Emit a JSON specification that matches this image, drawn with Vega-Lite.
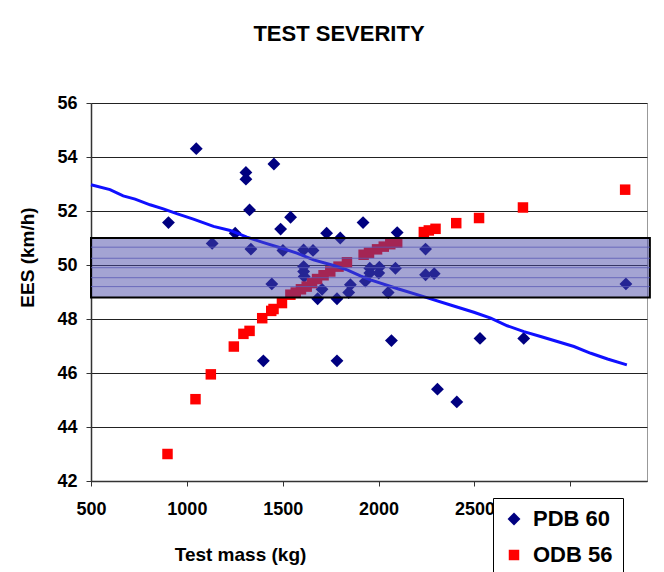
{
  "$schema": "https://vega.github.io/schema/vega-lite/v6.json",
  "width": 556,
  "height": 378,
  "autosize": {"type": "none"},
  "padding": {"left": 91, "top": 103, "right": 17, "bottom": 91},
  "background": "white",
  "config": {
    "view": {"stroke": "#999999", "strokeWidth": 1},
    "font": "Liberation Sans"
  },
  "title": {
    "text": "TEST SEVERITY",
    "font": "Liberation Sans",
    "fontSize": 22,
    "fontWeight": "bold",
    "color": "black",
    "anchor": "middle",
    "frame": "group",
    "dx": -30,
    "offset": 38,
    "baseline": "middle"
  },
  "datasets": {
    "pts": [
      {"mass": 904, "ees": 51.57, "series": "PDB 60"},
      {"mass": 1049, "ees": 54.31, "series": "PDB 60"},
      {"mass": 1132, "ees": 50.8, "series": "PDB 60"},
      {"mass": 1252, "ees": 51.18, "series": "PDB 60"},
      {"mass": 1308, "ees": 53.43, "series": "PDB 60"},
      {"mass": 1308, "ees": 53.18, "series": "PDB 60"},
      {"mass": 1327, "ees": 52.04, "series": "PDB 60"},
      {"mass": 1334, "ees": 50.59, "series": "PDB 60"},
      {"mass": 1454, "ees": 53.74, "series": "PDB 60"},
      {"mass": 1489, "ees": 51.33, "series": "PDB 60"},
      {"mass": 1541, "ees": 51.77, "series": "PDB 60"},
      {"mass": 1501, "ees": 50.54, "series": "PDB 60"},
      {"mass": 1609, "ees": 50.56, "series": "PDB 60"},
      {"mass": 1658, "ees": 50.54, "series": "PDB 60"},
      {"mass": 1609, "ees": 49.94, "series": "PDB 60"},
      {"mass": 1609, "ees": 49.76, "series": "PDB 60"},
      {"mass": 1612, "ees": 49.57, "series": "PDB 60"},
      {"mass": 1443, "ees": 49.3, "series": "PDB 60"},
      {"mass": 1729, "ees": 51.18, "series": "PDB 60"},
      {"mass": 1800, "ees": 51.0, "series": "PDB 60"},
      {"mass": 1705, "ees": 49.1, "series": "PDB 60"},
      {"mass": 1682, "ees": 48.75, "series": "PDB 60"},
      {"mass": 1783, "ees": 48.75, "series": "PDB 60"},
      {"mass": 1853, "ees": 49.27, "series": "PDB 60"},
      {"mass": 1844, "ees": 48.98, "series": "PDB 60"},
      {"mass": 1919, "ees": 51.57, "series": "PDB 60"},
      {"mass": 2097, "ees": 51.2, "series": "PDB 60"},
      {"mass": 2245, "ees": 50.59, "series": "PDB 60"},
      {"mass": 2245, "ees": 49.64, "series": "PDB 60"},
      {"mass": 2290, "ees": 49.68, "series": "PDB 60"},
      {"mass": 2088, "ees": 49.88, "series": "PDB 60"},
      {"mass": 1931, "ees": 49.4, "series": "PDB 60"},
      {"mass": 1954, "ees": 49.88, "series": "PDB 60"},
      {"mass": 1954, "ees": 49.7, "series": "PDB 60"},
      {"mass": 2004, "ees": 49.92, "series": "PDB 60"},
      {"mass": 2001, "ees": 49.7, "series": "PDB 60"},
      {"mass": 2050, "ees": 48.98, "series": "PDB 60"},
      {"mass": 3290, "ees": 49.3, "series": "PDB 60"},
      {"mass": 1399, "ees": 46.45, "series": "PDB 60"},
      {"mass": 1783, "ees": 46.45, "series": "PDB 60"},
      {"mass": 2067, "ees": 47.2, "series": "PDB 60"},
      {"mass": 2529, "ees": 47.28, "series": "PDB 60"},
      {"mass": 2757, "ees": 47.28, "series": "PDB 60"},
      {"mass": 2307, "ees": 45.4, "series": "PDB 60"},
      {"mass": 2408, "ees": 44.93, "series": "PDB 60"},
      {"mass": 899, "ees": 43.0, "series": "ODB 56"},
      {"mass": 1045, "ees": 45.03, "series": "ODB 56"},
      {"mass": 1125, "ees": 45.95, "series": "ODB 56"},
      {"mass": 1245, "ees": 46.98, "series": "ODB 56"},
      {"mass": 1295, "ees": 47.45, "series": "ODB 56"},
      {"mass": 1327, "ees": 47.56, "series": "ODB 56"},
      {"mass": 1393, "ees": 48.03, "series": "ODB 56"},
      {"mass": 1440, "ees": 48.3, "series": "ODB 56"},
      {"mass": 1452, "ees": 48.37, "series": "ODB 56"},
      {"mass": 1496, "ees": 48.59, "series": "ODB 56"},
      {"mass": 1540, "ees": 48.9, "series": "ODB 56"},
      {"mass": 1568, "ees": 48.98, "series": "ODB 56"},
      {"mass": 1595, "ees": 49.1, "series": "ODB 56"},
      {"mass": 1625, "ees": 49.2, "series": "ODB 56"},
      {"mass": 1653, "ees": 49.33, "series": "ODB 56"},
      {"mass": 1679, "ees": 49.48, "series": "ODB 56"},
      {"mass": 1713, "ees": 49.62, "series": "ODB 56"},
      {"mass": 1748, "ees": 49.76, "series": "ODB 56"},
      {"mass": 1791, "ees": 49.94, "series": "ODB 56"},
      {"mass": 1835, "ees": 50.1, "series": "ODB 56"},
      {"mass": 1922, "ees": 50.38, "series": "ODB 56"},
      {"mass": 1950, "ees": 50.45, "series": "ODB 56"},
      {"mass": 1992, "ees": 50.58, "series": "ODB 56"},
      {"mass": 2027, "ees": 50.68, "series": "ODB 56"},
      {"mass": 2061, "ees": 50.77, "series": "ODB 56"},
      {"mass": 2097, "ees": 50.83, "series": "ODB 56"},
      {"mass": 2236, "ees": 51.22, "series": "ODB 56"},
      {"mass": 2262, "ees": 51.28, "series": "ODB 56"},
      {"mass": 2297, "ees": 51.34, "series": "ODB 56"},
      {"mass": 2405, "ees": 51.55, "series": "ODB 56"},
      {"mass": 2524, "ees": 51.74, "series": "ODB 56"},
      {"mass": 2753, "ees": 52.13, "series": "ODB 56"},
      {"mass": 3286, "ees": 52.79, "series": "ODB 56"}
    ],
    "trend": [
      {"mass": 500, "ees": 52.97},
      {"mass": 599, "ees": 52.79},
      {"mass": 668, "ees": 52.56},
      {"mass": 730, "ees": 52.44},
      {"mass": 808, "ees": 52.23},
      {"mass": 877, "ees": 52.08},
      {"mass": 947, "ees": 51.9},
      {"mass": 1034, "ees": 51.7},
      {"mass": 1139, "ees": 51.43},
      {"mass": 1226, "ees": 51.28},
      {"mass": 1313, "ees": 51.03},
      {"mass": 1400, "ees": 50.83},
      {"mass": 1487, "ees": 50.64},
      {"mass": 1574, "ees": 50.44},
      {"mass": 1661, "ees": 50.19},
      {"mass": 1766, "ees": 49.98},
      {"mass": 1836, "ees": 49.82},
      {"mass": 1905, "ees": 49.6},
      {"mass": 1958, "ees": 49.45},
      {"mass": 2100, "ees": 49.12},
      {"mass": 2235, "ees": 48.83},
      {"mass": 2375, "ees": 48.52},
      {"mass": 2497, "ees": 48.25},
      {"mass": 2585, "ees": 48.03},
      {"mass": 2671, "ees": 47.75},
      {"mass": 2758, "ees": 47.53},
      {"mass": 2845, "ees": 47.35},
      {"mass": 3019, "ees": 46.98},
      {"mass": 3107, "ees": 46.73},
      {"mass": 3194, "ees": 46.52},
      {"mass": 3295, "ees": 46.3}
    ],
    "band": [
      {"from": 500, "to": 3415, "lo": 48.8, "hi": 51.0}
    ],
    "pattern": [
      {"from": 500, "to": 3415, "level": 50.66},
      {"from": 500, "to": 3415, "level": 50.25},
      {"from": 500, "to": 3415, "level": 49.9},
      {"from": 500, "to": 3415, "level": 49.53},
      {"from": 500, "to": 3415, "level": 49.2}
    ]
  },
  "layer": [
    {
      "data": {"name": "pts"},
      "mark": {"type": "point", "filled": true, "opacity": 1, "strokeWidth": 0},
      "encoding": {
        "x": {
          "field": "mass",
          "type": "quantitative",
          "scale": {"domain": [500, 3400], "nice": false, "zero": false},
          "axis": {
            "title": "Test mass (kg)",
            "values": [500, 1000, 1500, 2000, 2500, 3000],
            "labelExpr": "datum.value == 3000 ? '' : format(datum.value, 'd')",
            "grid": false,
            "labelFont": "Liberation Sans",
            "labelFontSize": 18,
            "labelFontWeight": "bold",
            "labelColor": "black",
            "labelPadding": 14,
            "labelFlush": false,
            "labelOverlap": false,
            "tickSize": 5,
            "tickColor": "#333333",
            "domainColor": "#333333",
            "domainWidth": 1.5,
            "titleFont": "Liberation Sans",
            "titleFontSize": 19,
            "titleFontWeight": "bold",
            "titleColor": "black",
            "titleX": 149,
            "titleY": 73,
            "titleAlign": "center",
            "titleBaseline": "middle"
          }
        },
        "y": {
          "field": "ees",
          "type": "quantitative",
          "scale": {"domain": [42, 56], "nice": false, "zero": false},
          "axis": {
            "title": "EES (km/h)",
            "values": [42, 44, 46, 48, 50, 52, 54, 56],
            "format": "d",
            "grid": true,
            "gridColor": "#222222",
            "gridWidth": 1,
            "labelFont": "Liberation Sans",
            "labelFontSize": 18,
            "labelFontWeight": "bold",
            "labelColor": "black",
            "labelPadding": 9,
            "labelFlush": false,
            "tickSize": 5,
            "tickColor": "#333333",
            "domainColor": "#333333",
            "domainWidth": 1.5,
            "titleFont": "Liberation Sans",
            "titleFontSize": 19,
            "titleFontWeight": "bold",
            "titleColor": "black",
            "titleAngle": 270,
            "titleX": -64,
            "titleY": 154,
            "titleAlign": "center",
            "titleBaseline": "middle"
          }
        },
        "size": {
          "field": "series",
          "type": "nominal",
          "scale": {"domain": ["PDB 60", "ODB 56"], "range": [165, 110]},
          "legend": null
        },
        "color": {
          "field": "series",
          "type": "nominal",
          "scale": {"domain": ["PDB 60", "ODB 56"], "range": ["#000080", "#ff0000"]},
          "legend": {
            "orient": "none",
            "legendX": 402,
            "legendY": 395,
            "title": null,
            "fillColor": "white",
            "strokeColor": "black",
            "padding": 10,
            "labelFont": "Liberation Sans",
            "labelFontSize": 22,
            "labelFontWeight": "bold",
            "labelColor": "black",
            "symbolSize": 80,
            "rowPadding": 14,
            "labelOffset": 8,
            "symbolStrokeWidth": 0
          }
        },
        "shape": {
          "field": "series",
          "type": "nominal",
          "scale": {"domain": ["PDB 60", "ODB 56"], "range": ["diamond", "square"]},
          "legend": {
            "orient": "none",
            "legendX": 402,
            "legendY": 395,
            "title": null,
            "fillColor": "white",
            "strokeColor": "black",
            "padding": 10,
            "labelFont": "Liberation Sans",
            "labelFontSize": 22,
            "labelFontWeight": "bold",
            "labelColor": "black",
            "symbolSize": 80,
            "rowPadding": 14,
            "labelOffset": 8,
            "symbolStrokeWidth": 0
          }
        }
      }
    },
    {
      "data": {"name": "trend"},
      "mark": {"type": "line", "color": "#1010ff", "strokeWidth": 3},
      "encoding": {
        "x": {"field": "mass", "type": "quantitative"},
        "y": {"field": "ees", "type": "quantitative"}
      }
    },
    {
      "data": {"name": "band"},
      "mark": {"type": "rect", "fill": "#4a4aa8", "fillOpacity": 0.5, "stroke": "black", "strokeWidth": 2},
      "encoding": {
        "x": {"field": "from", "type": "quantitative"},
        "x2": {"field": "to"},
        "y": {"field": "lo", "type": "quantitative"},
        "y2": {"field": "hi"}
      }
    },
    {
      "data": {"name": "pattern"},
      "mark": {"type": "rule", "color": "#5a5ab4", "strokeWidth": 1, "opacity": 0.8},
      "encoding": {
        "x": {"field": "from", "type": "quantitative"},
        "x2": {"field": "to"},
        "y": {"field": "level", "type": "quantitative"}
      }
    }
  ]
}
